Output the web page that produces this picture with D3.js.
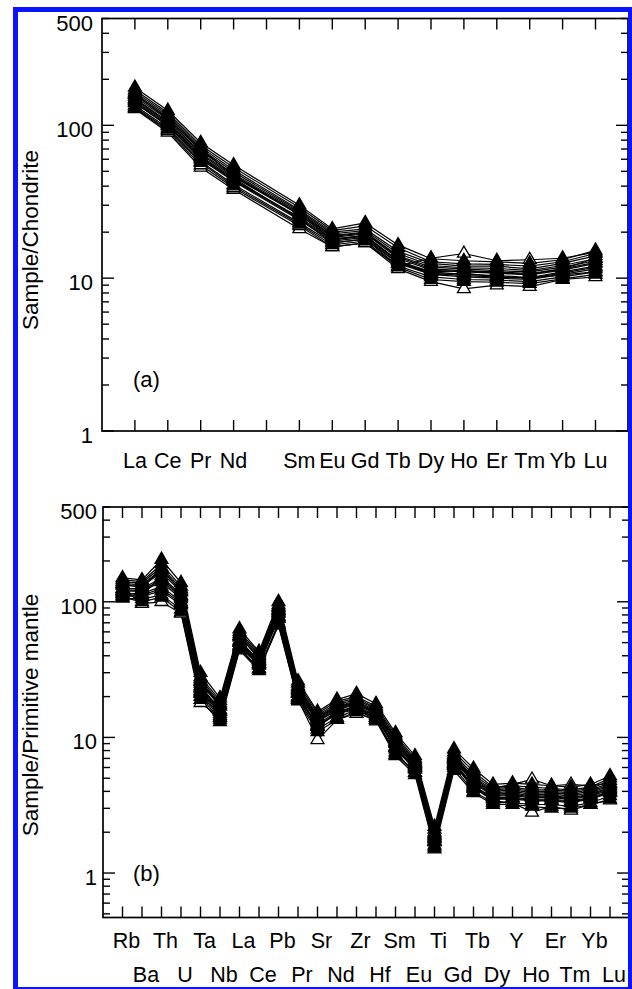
<!DOCTYPE html>
<html>
<head>
<meta charset="utf-8">
<script src="https://cdn.jsdelivr.net/npm/d3@7"></script>
<style>
  body { margin: 0; background: #fff; }
  svg { display: block; font-family: "Liberation Sans", Arial, sans-serif; }
  text { fill: #000; }
</style>
</head>
<body>
<svg width="632" height="989"></svg>
<script>
// (a) chondrite-normalised REE, Pm has no value
const reeElements = ['La', 'Ce', 'Pr', 'Nd', 'Pm', 'Sm', 'Eu', 'Gd', 'Tb', 'Dy', 'Ho', 'Er', 'Tm', 'Yb', 'Lu'];
const reeTickLabels = ['La', 'Ce', 'Pr', 'Nd', '', 'Sm', 'Eu', 'Gd', 'Tb', 'Dy', 'Ho', 'Er', 'Tm', 'Yb', 'Lu'];
const reeFilled = [
  [177, 125, 77, 55, null, 30, 21, 23, 16.5, 13.4, 13, 12.8, 12.5, 13.2, 15.2],
  [170, 121, 74, 53, null, 29, 20.5, 22, 15.8, 12.8, 12.4, 12.3, 12, 12.8, 14.5],
  [165, 118, 72, 51, null, 28, 20, 21, 15, 12.5, 12, 12, 11.5, 12.5, 14],
  [161, 115, 70, 49.5, null, 27.5, 19.5, 20.5, 14.5, 12.1, 11.7, 11.6, 11.2, 12.1, 13.4],
  [158, 112, 68, 48, null, 27, 19, 20, 14, 11.8, 11.5, 11.2, 11, 11.8, 13],
  [154, 109, 66, 47, null, 26.5, 18.8, 19.8, 13.8, 11.5, 11.2, 11, 10.7, 11.5, 12.7],
  [150, 106, 65, 46, null, 26, 18.5, 19.5, 13.5, 11.3, 11, 10.8, 10.5, 11.3, 12.5],
  [145, 102, 62, 44, null, 25, 18, 19, 13, 11, 10.6, 10.4, 10.1, 11, 12],
  [142, 100, 61, 43.5, null, 24.5, 17.8, 18.8, 12.8, 10.8, 10.4, 10.2, 10, 10.8, 11.8],
  [140, 99, 60, 43, null, 24, 17.5, 18.5, 12.5, 10.6, 10.2, 10, 9.8, 10.6, 11.5],
  [135, 96, 58, 41, null, 23, 17, 18, 12, 10.2, 9.8, 9.7, 9.5, 10.2, 11],
  [132, 94, 57, 40, null, 22.5, 16.5, 17.5, 11.8, 9.8, 9.5, 9.4, 9.2, 9.9, 10.6]
];
const reeOpen = [
  [128, 90, 53, 38, null, 21, 16, 17, 11.5, 9.5, 8.5, 9, 8.8, 9.8, 10.2],
  [130, 92, 55, 39, null, 22, 16, 17, 12, 13.5, 14.5, 13, 13.2, 13.5, 14.8],
  [160, 110, 70, 47, null, 26, 18, 19, 13, 10.5, 10.8, 10.2, 10, 10.5, 11],
  [148, 104, 63, 45, null, 24.5, 17, 18, 12.5, 11, 11.2, 10.8, 10.6, 11.5, 13.5]
];

// (b) primitive-mantle-normalised trace elements
const spiderElements = ['Rb', 'Ba', 'Th', 'U', 'Ta', 'Nb', 'La', 'Ce', 'Pb', 'Pr', 'Sr', 'Nd', 'Zr',
  'Hf', 'Sm', 'Eu', 'Ti', 'Gd', 'Tb', 'Dy', 'Y', 'Ho', 'Er', 'Tm', 'Yb', 'Lu'];
const spiderFilled = [
  [150, 145, 205, 138, 30, 19.5, 63, 43, 100, 26, 15.5, 19, 21, 17.7, 10.8, 7.3, 2.2, 8.2, 5.9, 4.5, 4.6, 4.5, 4.4, 4.3, 4.5, 5.2],
  [145, 141, 190, 130, 28, 18.7, 60, 42, 95, 25, 15, 18.5, 20, 17, 10.4, 7, 2.1, 7.8, 5.6, 4.3, 4.4, 4.3, 4.2, 4.1, 4.3, 5.0],
  [140, 138, 180, 125, 27, 18, 58, 41, 92, 24, 14.5, 18, 19.5, 16.5, 10, 6.8, 2.0, 7.5, 5.3, 4.2, 4.3, 4.1, 4.1, 4.0, 4.2, 4.8],
  [136, 134, 172, 121, 26, 17.5, 56, 40, 90, 23.5, 14.2, 17.5, 19, 16.2, 9.8, 6.6, 1.95, 7.3, 5.1, 4.1, 4.2, 4.0, 4.0, 3.9, 4.1, 4.6],
  [132, 130, 165, 118, 25, 17, 55, 39, 88, 23, 14, 17, 18.5, 15.8, 9.5, 6.5, 1.9, 7.2, 5.0, 4.0, 4.1, 3.9, 3.9, 3.8, 4.0, 4.5],
  [125, 125, 150, 110, 24, 16, 52, 37, 85, 22, 13.5, 16.5, 18, 15.2, 9.2, 6.3, 1.85, 7.0, 4.8, 3.8, 3.9, 3.7, 3.7, 3.6, 3.8, 4.3],
  [122, 122, 145, 108, 23.5, 15.8, 51, 36.5, 83, 21.5, 13.2, 16.2, 17.8, 15, 9.1, 6.2, 1.82, 6.9, 4.7, 3.75, 3.8, 3.65, 3.65, 3.55, 3.75, 4.2],
  [120, 120, 140, 105, 23, 15.5, 50, 36, 82, 21, 13, 16, 17.5, 14.8, 9, 6.1, 1.8, 6.8, 4.6, 3.7, 3.7, 3.6, 3.6, 3.5, 3.7, 4.1],
  [115, 115, 130, 100, 22, 15, 48, 35, 78, 20, 12.5, 15.5, 17, 14.5, 8.6, 6, 1.75, 6.6, 4.4, 3.6, 3.6, 3.5, 3.5, 3.4, 3.6, 4.0],
  [112, 112, 125, 97, 21.5, 14.5, 47.5, 34.5, 76, 19.8, 12.2, 15.2, 16.8, 14.2, 8.4, 5.9, 1.72, 6.4, 4.3, 3.55, 3.55, 3.45, 3.45, 3.35, 3.55, 3.95],
  [110, 110, 120, 95, 21, 14, 47, 34, 75, 19.5, 12, 15, 16.5, 14, 8.2, 5.8, 1.7, 6.3, 4.2, 3.5, 3.5, 3.4, 3.4, 3.3, 3.5, 3.9],
  [106, 105, 112, 88, 20, 13.5, 45, 32, 70, 19, 11.5, 14, 16, 13.5, 7.8, 5.5, 1.6, 6, 4.0, 3.3, 3.3, 3.2, 3.2, 3.1, 3.3, 3.7],
  [108, 100, 108, 84, 19, 13, 44, 31, 67, 18.5, 11, 13.5, 15.5, 13.2, 7.3, 5.3, 1.5, 5.7, 3.9, 3.2, 3.2, 3.1, 3.0, 3.0, 3.2, 3.5]
];
const spiderOpen = [
  [125, 97, 100, 82, 18, 14, 46, 32, 68, 19, 9.6, 13.5, 15, 13.5, 7.5, 5.5, 1.55, 6.2, 4.5, 4.2, 4.5, 4.9, 4.4, 4.5, 4.4, 4.6],
  [118, 112, 155, 112, 22, 15.5, 50, 35, 78, 21, 12, 15, 16, 14, 8.5, 6, 1.7, 6.5, 4.3, 3.4, 3.3, 2.8, 3.1, 2.9, 3.2, 3.45],
  [135, 128, 175, 120, 26, 17, 56, 38, 86, 22.5, 13.8, 16.8, 18.2, 15.5, 9.3, 6.4, 1.9, 7.1, 4.9, 3.9, 4.0, 3.8, 3.8, 3.7, 3.9, 4.4]
];

const yTickLabels = [1, 10, 100, 500];

const svg = d3.select('svg');

function drawPanel(opt) {
  const g = svg.append('g');
  const x = d3.scaleLinear().domain([0, opt.elements.length + 1]).range([opt.left, opt.xEnd]);
  const y = d3.scaleLog().domain(opt.yDomain).range([opt.bottom, opt.top]);
  const right = opt.right;

  // tick marks, all pointing inward
  const yTicks = y.ticks();
  const major = v => Math.abs(Math.log10(v) - Math.round(Math.log10(v))) < 1e-6;
  g.selectAll('line.yl').data(yTicks).enter().append('line')
    .attr('x1', opt.left).attr('x2', d => opt.left + (major(d) ? 12 : 7))
    .attr('y1', d => y(d)).attr('y2', d => y(d));
  g.selectAll('line.yr').data(yTicks).enter().append('line')
    .attr('x1', right).attr('x2', d => right - (major(d) ? 12 : 7))
    .attr('y1', d => y(d)).attr('y2', d => y(d));
  const idx = d3.range(1, opt.elements.length + 1);
  g.selectAll('line.xt').data(idx).enter().append('line')
    .attr('x1', d => x(d)).attr('x2', d => x(d))
    .attr('y1', opt.top).attr('y2', opt.top + 11);
  g.selectAll('line.xb').data(idx).enter().append('line')
    .attr('x1', d => x(d)).attr('x2', d => x(d))
    .attr('y1', opt.bottom).attr('y2', opt.bottom - 11);
  g.selectAll('line').attr('stroke', '#000').attr('stroke-width', 1.4);

  g.append('rect')
    .attr('x', opt.left).attr('y', opt.top)
    .attr('width', right - opt.left).attr('height', opt.bottom - opt.top)
    .attr('fill', 'none').attr('stroke', '#000').attr('stroke-width', 1.7);

  // y tick labels
  g.selectAll('text.yv').data(yTickLabels).enter().append('text')
    .attr('x', opt.yLabelX).attr('y', d => y(d) + 12)
    .attr('text-anchor', 'end').attr('font-size', 22)
    .text(d => d);

  // x labels
  g.selectAll('text.xl').data(opt.tickLabels).enter().append('text')
    .attr('x', (d, i) => x(i + 1) + opt.labelDx)
    .attr('y', (d, i) => opt.rows[i % opt.rows.length])
    .attr('text-anchor', 'middle').attr('font-size', 21.5)
    .text(d => d);

  g.append('text')
    .attr('transform', `translate(38,${opt.titleY}) rotate(-90)`)
    .attr('text-anchor', 'middle').attr('font-size', 22.5)
    .text(opt.title);
  g.append('text')
    .attr('x', 133).attr('y', opt.tagY).attr('font-size', 22)
    .text(opt.tag);

  const line = d3.line().x(d => x(d.i)).y(d => y(d.v));
  const pts = row => row.map((v, i) => ({ i: i + 1, v })).filter(d => d.v != null);
  const tri = d3.symbol().type(d3.symbolTriangle).size(72);
  const all = opt.open.concat(opt.filled);

  g.selectAll('path.series').data(all).enter().append('path')
    .attr('d', d => line(pts(d)))
    .attr('fill', 'none').attr('stroke', '#000').attr('stroke-width', 1.2);

  function markers(rows, fill) {
    rows.forEach(row => {
      g.selectAll(null).data(pts(row)).enter().append('path')
        .attr('d', tri)
        .attr('transform', d => `translate(${x(d.i)},${y(d.v)})`)
        .attr('fill', fill).attr('stroke', '#000').attr('stroke-width', 1.3);
    });
  }
  // open symbols first so the filled ones cover the middle of the band
  markers(opt.open, '#fff');
  markers(opt.filled, '#000');
}

drawPanel({
  elements: reeElements, tickLabels: reeTickLabels,
  filled: reeFilled, open: reeOpen,
  left: 102, xEnd: 628.4, right: 628, top: 18.5, bottom: 431,
  yDomain: [1, 500], yLabelX: 93, labelDx: 0, rows: [468],
  title: 'Sample/Chondrite', titleY: 240, tag: '(a)', tagY: 387
});

drawPanel({
  elements: spiderElements, tickLabels: spiderElements,
  filled: spiderFilled, open: spiderOpen,
  left: 103, xEnd: 629.5, right: 629, top: 507, bottom: 917.5,
  yDomain: [0.47, 500], yLabelX: 97, labelDx: 4, rows: [948, 982],
  title: 'Sample/Primitive mantle', titleY: 715, tag: '(b)', tagY: 881
});

// blue frame around the figure
const blue = '#0a14ff';
svg.append('rect').attr('x', 13).attr('y', 7).attr('width', 5).attr('height', 982).attr('fill', blue);
svg.append('rect').attr('x', 13).attr('y', 7).attr('width', 619).attr('height', 5).attr('fill', blue);
svg.append('rect').attr('x', 628).attr('y', 7).attr('width', 4).attr('height', 982).attr('fill', blue);
svg.append('rect').attr('x', 13).attr('y', 987).attr('width', 619).attr('height', 2).attr('fill', blue);
</script>
</body>
</html>
